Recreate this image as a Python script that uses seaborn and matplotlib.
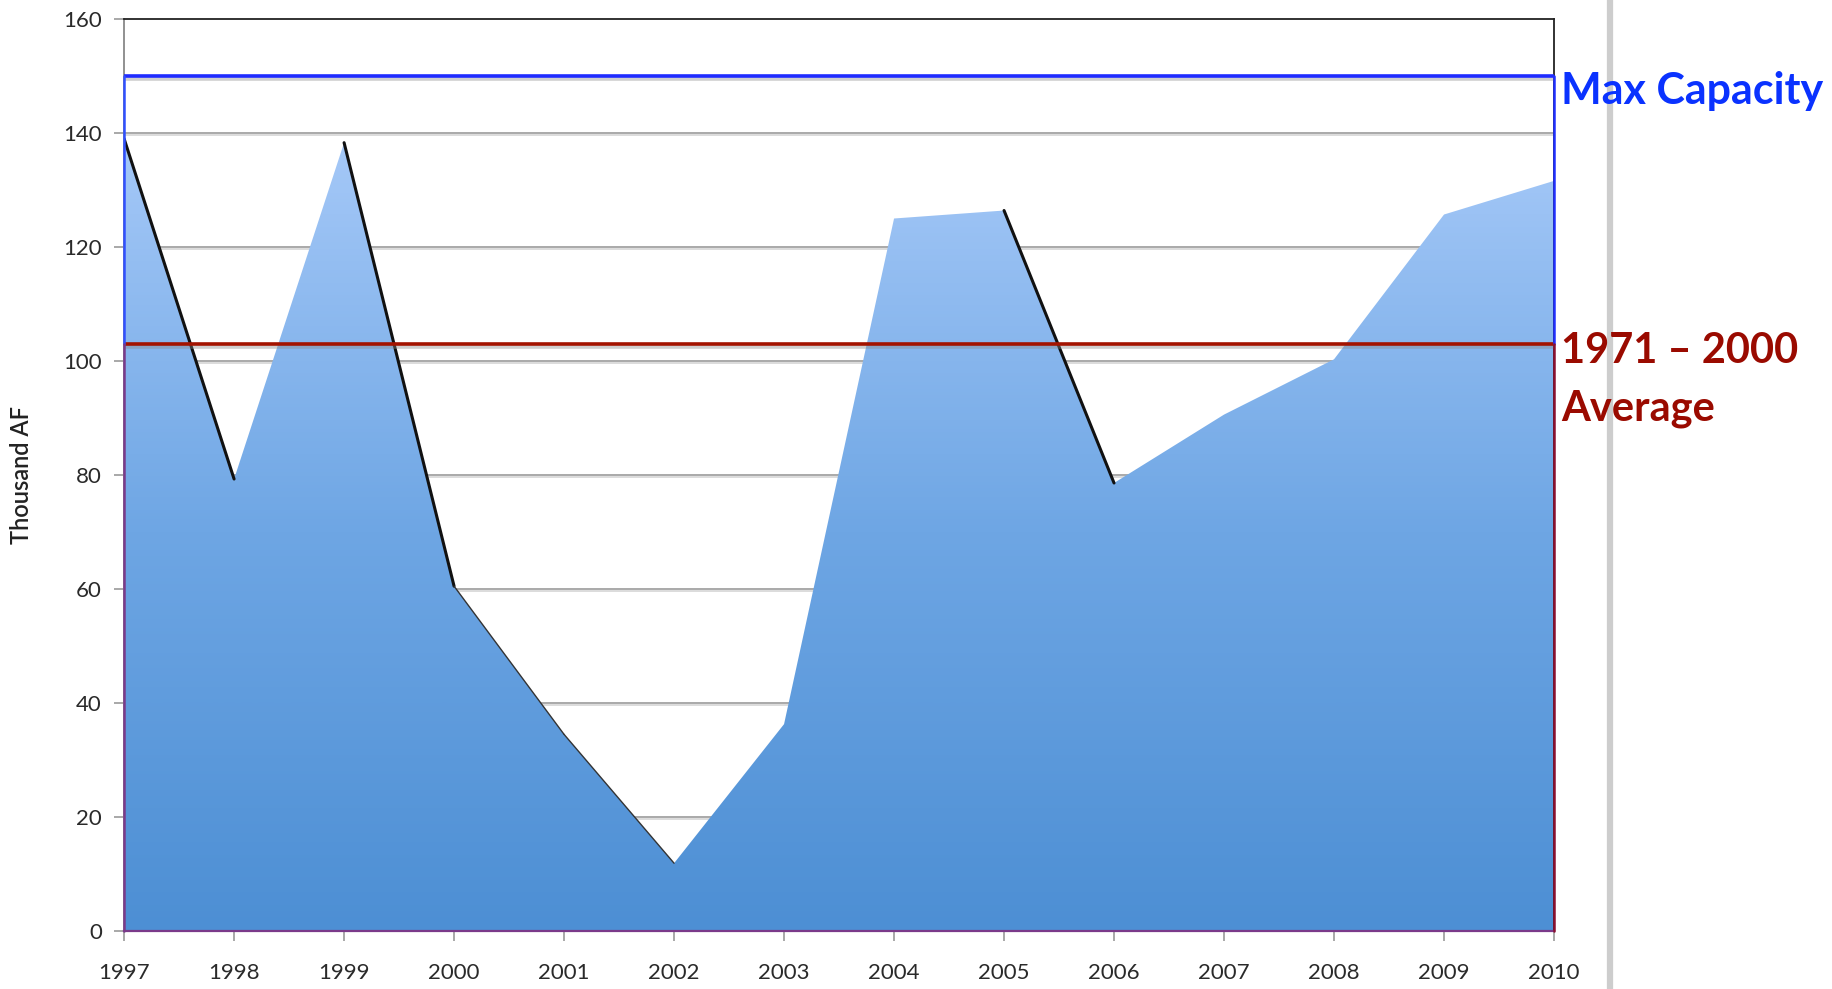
import numpy as np
import matplotlib
matplotlib.use("Agg")
import matplotlib.pyplot as plt
import matplotlib.patheffects as pe
from matplotlib.colors import LinearSegmentedColormap
from matplotlib.lines import Line2D
import seaborn as sns
import pandas as pd

# Reservoir storage, thousand acre-feet
years = [1997, 1998, 1999, 2000, 2001, 2002, 2003, 2004, 2005, 2006, 2007, 2008, 2009, 2010]
storage = [139, 79.3, 138.3, 60.5, 34.5, 11.9, 36.3, 125, 126.4, 78.6, 90.6, 100.3, 125.7, 131.6]
max_capacity = 150
average_1971_2000 = 103
y_ticks = [0, 20, 40, 60, 80, 100, 120, 140, 160]

df = pd.DataFrame({"year": years, "storage": storage})

sns.set_style("white")
plt.rcParams["font.family"] = ["Lato", "DejaVu Sans"]

fig = plt.figure(figsize=(18.33, 9.89), dpi=100)
ax = fig.add_axes([0.0677, 0.0586, 0.7801, 0.9222])
ax.set_xlim(1997, 2010)
ax.set_ylim(0, 160)

# horizontal gridlines with a soft drop shadow
for v in y_ticks[1:-1]:
    ax.axhline(v, color="#a9a9a9", lw=1.4, zorder=1,
               path_effects=[pe.SimpleLineShadow(offset=(0, -1.5), shadow_color="#999999", alpha=0.35),
                             pe.Normal()])

# area with vertical gradient fill
fill = ax.fill_between(df["year"], 0, df["storage"], color="none", lw=0, zorder=2)
cmap = LinearSegmentedColormap.from_list("water", ["#4d8fd4", "#6ea6e4", "#a6c9f8"])
grad = np.linspace(0, 1, 256).reshape(-1, 1)
img = ax.imshow(grad, cmap=cmap, aspect="auto", origin="lower",
                extent=[1997, 2010, 0, 140], zorder=2, interpolation="bicubic")
img.set_clip_path(fill.get_paths()[0], transform=ax.transData)

# dark edges along the falling stretches
thick_edges = [(1997, 1998), (1999, 2000), (2005, 2006)]
thin_edges = [(2000, 2001), (2001, 2002)]
for segs, lw, col in [(thick_edges, 2.2, "#111111"), (thin_edges, 1.0, "#333333")]:
    for a, b in segs:
        seg = df[(df["year"] >= a) & (df["year"] <= b)]
        sns.lineplot(data=seg, x="year", y="storage", ax=ax, color=col, lw=lw,
                     zorder=3, legend=False, estimator=None, sort=False)

# reference levels
shadow = [pe.SimpleLineShadow(offset=(0, -2), shadow_color="#888888", alpha=0.4), pe.Normal()]
ax.axhline(max_capacity, color="#1f2bff", lw=2.6, zorder=4, path_effects=shadow)
ax.axhline(average_1971_2000, color="#a31300", lw=2.6, zorder=4, path_effects=shadow)

# frame
for s in ["top", "right"]:
    ax.spines[s].set_color("#222222")
    ax.spines[s].set_linewidth(1.3)
ax.spines["left"].set_color("#888888")
ax.spines["left"].set_linewidth(1.3)
ax.spines["bottom"].set_color("#7a3a8a")
ax.spines["bottom"].set_linewidth(1.6)
for x0, c_hi, c_lo in [(1997, "#3050ff", "#7a3a8a"), (2010, "#2030ff", "#8a1030")]:
    ax.plot([x0, x0], [average_1971_2000, max_capacity], color=c_hi, lw=1.8, zorder=5, clip_on=False)
    ax.plot([x0, x0], [0, average_1971_2000], color=c_lo, lw=1.8, zorder=5, clip_on=False)

# ticks and labels
ax.set_xticks(years)
ax.set_xticklabels([str(y) for y in years])
ax.set_yticks(y_ticks)
ax.tick_params(axis="both", direction="out", length=7, width=1.2, color="#999999",
               labelsize=16, labelcolor="#2a2a2a")
ax.tick_params(axis="x", pad=16, bottom=True)
ax.tick_params(axis="y", pad=9, left=True)
ax.set_xlabel("")
ax.set_ylabel("Thousand AF", fontsize=17, color="#222222", fontweight="semibold")
ax.yaxis.set_label_coords(-0.064, 0.5)

# labels for the reference levels
label_kw = dict(textcoords="offset points", fontweight="bold",
                va="baseline", ha="left", annotation_clip=False)
ax.annotate("Max Capacity", xy=(2010, 145.0), xytext=(5, 0), color="#0a32ff", fontsize=31, **label_kw)
ax.annotate("1971 \u2013 2000", xy=(2010, 99.6), xytext=(5, 0), color="#9a0a00", fontsize=30, **label_kw)
ax.annotate("Average", xy=(2010, 89.6), xytext=(5, 0), color="#9a0a00", fontsize=30, **label_kw)

# slide divider on the right
fig.add_artist(Line2D([1610 / 1833, 1610 / 1833], [0, 1], transform=fig.transFigure,
                      color="#cdcdcd", lw=4.5, zorder=0))

fig.savefig("out.png", dpi=100)
